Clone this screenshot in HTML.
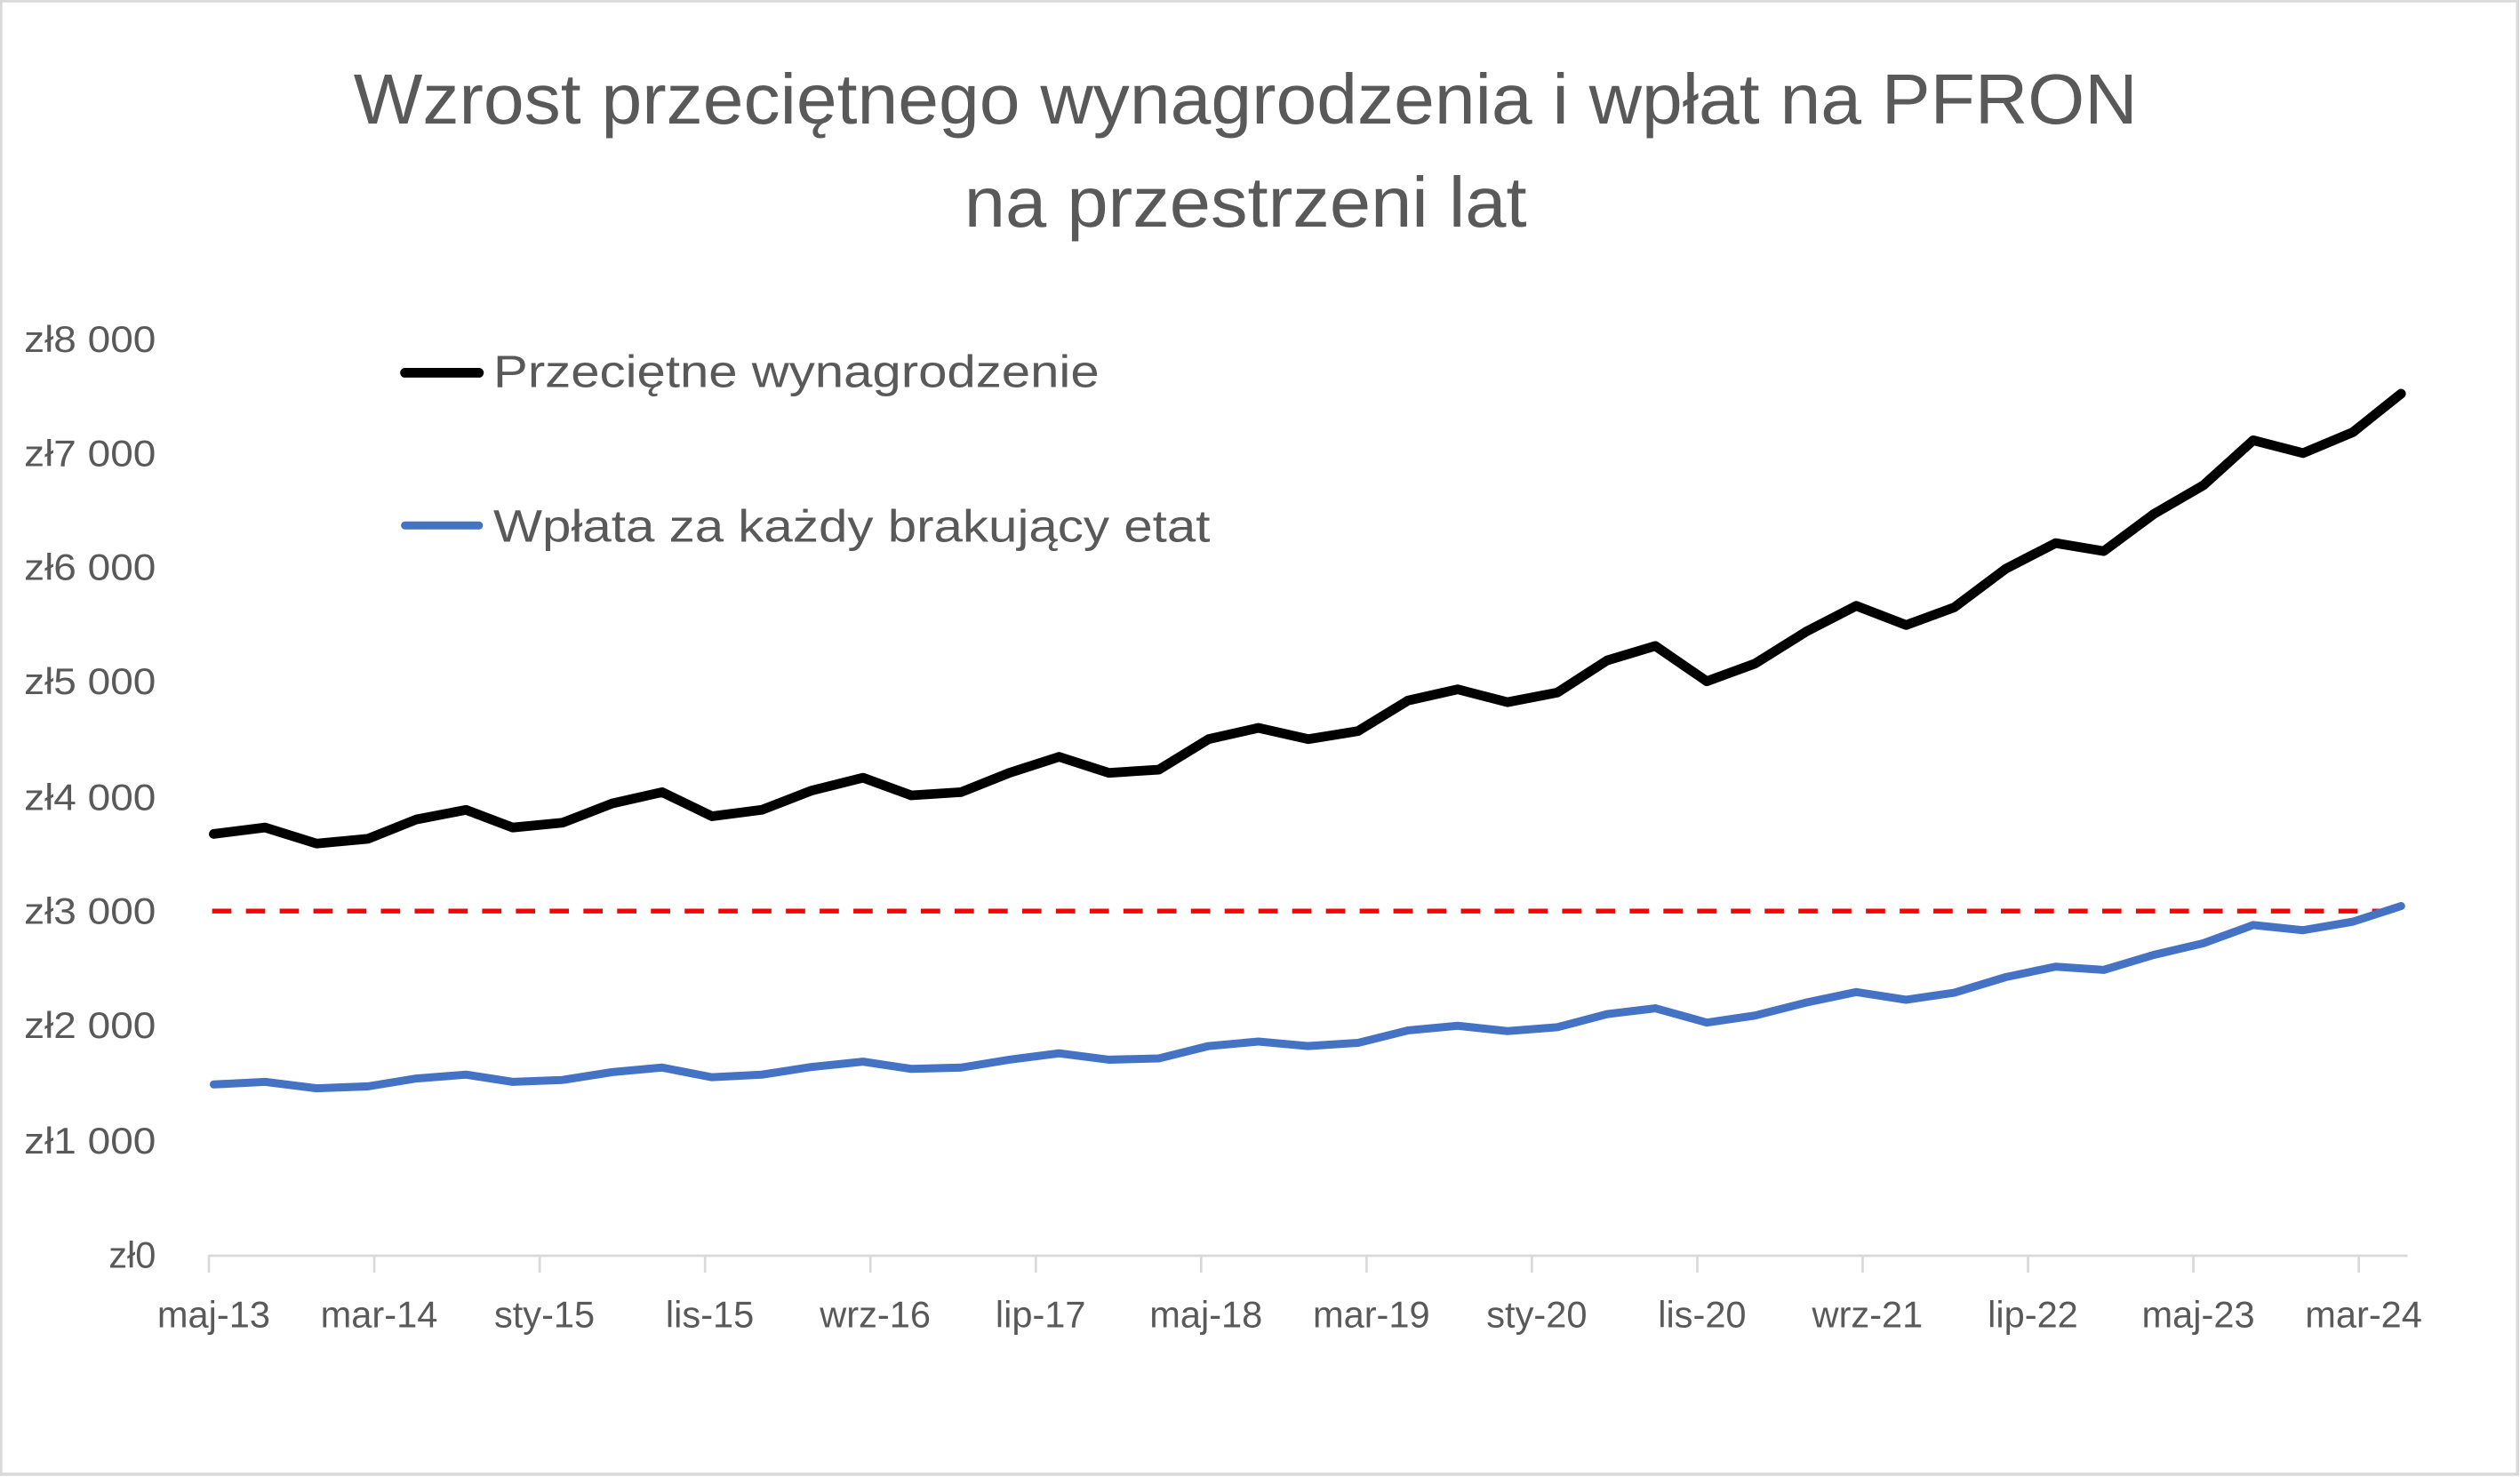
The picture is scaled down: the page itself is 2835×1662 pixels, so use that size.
<!DOCTYPE html>
<html><head><meta charset="utf-8"><style>
html,body{margin:0;padding:0;background:#fff}
svg{display:block}
text{font-family:"Liberation Sans",sans-serif;fill:#595959}
</style></head><body>
<svg width="2835" height="1662" viewBox="0 0 1568 919.2" preserveAspectRatio="none" xmlns="http://www.w3.org/2000/svg">
<rect x="0.5" y="0.5" width="1566" height="917" fill="#fff" stroke="#d9d9d9" stroke-width="2"/>
<text x="775" y="77" font-size="44" text-anchor="middle" textLength="1110" lengthAdjust="spacingAndGlyphs">Wzrost przeciętnego wynagrodzenia i wpłat na PFRON</text>
<text x="775" y="141" font-size="44" text-anchor="middle" textLength="350" lengthAdjust="spacingAndGlyphs">na przestrzeni lat</text>
<g font-size="23" text-anchor="end">
<text x="97" y="219" textLength="82" lengthAdjust="spacingAndGlyphs">zł8 000</text><text x="97" y="290" textLength="82" lengthAdjust="spacingAndGlyphs">zł7 000</text><text x="97" y="361" textLength="82" lengthAdjust="spacingAndGlyphs">zł6 000</text><text x="97" y="432" textLength="82" lengthAdjust="spacingAndGlyphs">zł5 000</text><text x="97" y="504" textLength="82" lengthAdjust="spacingAndGlyphs">zł4 000</text><text x="97" y="575" textLength="82" lengthAdjust="spacingAndGlyphs">zł3 000</text><text x="97" y="646" textLength="82" lengthAdjust="spacingAndGlyphs">zł2 000</text><text x="97" y="718" textLength="82" lengthAdjust="spacingAndGlyphs">zł1 000</text><text x="97" y="789">zł0</text>
</g>
<line x1="130" y1="781.5" x2="1498" y2="781.5" stroke="#d9d9d9" stroke-width="1.5"/>
<g id="ticks" stroke="#d9d9d9" stroke-width="1.5"></g>
<g id="xl" font-size="23" text-anchor="middle"></g>
<line x1="132" y1="567" x2="1494" y2="567" stroke="#ff0000" stroke-width="3" stroke-dasharray="12 9"/>
<polyline id="bk" fill="none" stroke="#000" stroke-width="6" stroke-linejoin="round" stroke-linecap="round"/>
<polyline id="bl" fill="none" stroke="#4472c4" stroke-width="5" stroke-linejoin="round" stroke-linecap="round"/>
<line x1="252" y1="232" x2="298" y2="232" stroke="#000" stroke-width="6" stroke-linecap="round"/>
<line x1="252" y1="327" x2="298" y2="327" stroke="#4472c4" stroke-width="5" stroke-linecap="round"/>
<text x="307" y="241" font-size="28" textLength="377" lengthAdjust="spacingAndGlyphs">Przeciętne wynagrodzenie</text>
<text x="307" y="337" font-size="28" textLength="446" lengthAdjust="spacingAndGlyphs">Wpłata za każdy brakujący etat</text>
</svg>
<script>
var ns="http://www.w3.org/2000/svg";
var labs=["maj-13","mar-14","sty-15","lis-15","wrz-16","lip-17","maj-18","mar-19","sty-20","lis-20","wrz-21","lip-22","maj-23","mar-24"];
var tg=document.getElementById("ticks"),xg=document.getElementById("xl");
for(var i=0;i<labs.length;i++){var x=130+i*102.9;
var l=document.createElementNS(ns,"line");l.setAttribute("x1",x);l.setAttribute("x2",x);l.setAttribute("y1",781);l.setAttribute("y2",792);tg.appendChild(l);
var t=document.createElementNS(ns,"text");t.setAttribute("x",x+3);t.setAttribute("y",826);t.textContent=labs[i];xg.appendChild(t);}
var p=[[133,519],[165,515],[197,525],[229,522],[259,510],[290,504],[319,515],[350,512],[381,500],[412,493],[443,508],[474,504],[505,492],[537,484],[567,495],[598,493],[628,481],[659,471],[690,481],[721,479],[752,460],[783,453],[814,460],[845,455],[876,436],[907,429],[938,437],[969,431],[1000,411],[1030,402],[1062,424],[1092,413],[1124,393],[1155,377],[1186,389],[1216,378],[1248,354],[1279,338],[1309,343],[1340,320],[1371,302],[1402,274],[1433,282],[1464,269],[1494,245]];
var a=[],b=[];
for(var i=0;i<p.length;i++){a.push(p[i][0]+","+p[i][1]);b.push(p[i][0]+","+(781-0.405*(781-p[i][1])).toFixed(1));}
document.getElementById("bk").setAttribute("points",a.join(" "));
document.getElementById("bl").setAttribute("points",b.join(" "));
</script>
</body></html>
